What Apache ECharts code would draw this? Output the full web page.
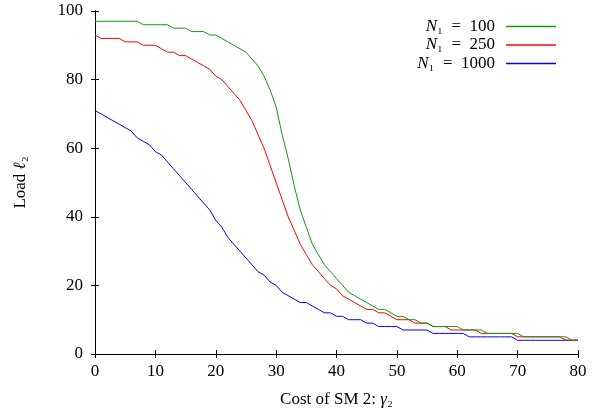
<!DOCTYPE html>
<html>
<head>
<meta charset="utf-8">
<script src="https://cdn.jsdelivr.net/npm/echarts@6/dist/echarts.min.js"></script>
<style>
  html, body { margin: 0; padding: 0; background: #fff; }
  #chart { width: 595px; height: 410px; }
</style>
</head>
<body>
<div id="chart"></div>
<script>
// Cost of SM 2 (gamma_2) sample points
const costs = [0,1,2,3,4,5,6,7,8,9,10,11,12,13,14,15,16,17,18,19,20,
  21,22,23,24,25,26,27,28,29,30,31,32,33,34,35,36,37,38,39,40,
  41,42,43,44,45,46,47,48,49,50,51,52,53,54,55,56,57,58,59,60,
  61,62,63,64,65,66,67,68,69,70,71,72,73,74,75,76,77,78,79,80];

// Load l_2 for N1 = 100
const loadN100 = [97,97,97,97,97,97,97,97,96,96,96,96,96,95,95,95,94,94,94,93,93,
  92,91,90,89,88,86,84,81,77,72,64,57,49,42,37,32,29,26,24,22,
  20,18,17,16,15,14,13,13,12,11,11,10,10,9,9,8,8,8,8,8,
  7,7,7,7,6,6,6,6,6,6,5,5,5,5,5,5,5,5,4,4];

// Load l_2 for N1 = 250
const loadN250 = [93,92,92,92,92,91,91,91,90,90,90,89,88,88,87,87,86,85,84,83,81,
  80,78,76,74,71,68,64,60,55,50,45,40,36,32,29,26,24,22,20,19,
  17,16,15,14,13,13,12,12,11,10,10,10,9,9,9,8,8,8,7,7,
  7,7,7,6,6,6,6,6,6,5,5,5,5,5,5,5,5,4,4,4];

// Load l_2 for N1 = 1000
const loadN1000 = [71,70,69,68,67,66,65,63,62,61,59,58,56,54,52,50,48,46,44,42,39,
  37,34,32,30,28,26,24,23,21,20,18,17,16,15,15,14,13,12,12,11,
  11,10,10,10,9,9,8,8,8,8,7,7,7,7,7,6,6,6,6,6,
  6,5,5,5,5,5,5,5,5,4,4,4,4,4,4,4,4,4,4,4];

const seriesNames = ['N1 = 100', 'N1 = 250', 'N1 = 1000'];
const legendLabels = ['100', '250', '1000'];
const seriesColors = ['#0e9a0e', '#ff0000', '#0000ff'];
const xTicks = { min: 0, max: 80, interval: 10 };
const yTicks = { min: 0, max: 100, interval: 20 };

const FONT = 'Liberation Serif, Times New Roman, DejaVu Serif, serif';

function pairs(ys) { return costs.map((c, i) => [c, ys[i]]); }
const allLoads = [loadN100, loadN250, loadN1000];

const chart = echarts.init(document.getElementById('chart'), null, { renderer: 'canvas' });

const axisCommon = {
  axisLine: { show: true, lineStyle: { color: '#000', width: 1 } },
  axisTick: { show: true, inside: true, length: 4, lineStyle: { color: '#000', width: 1 } },
  splitLine: { show: false },
  axisLabel: { color: '#000', fontFamily: FONT, fontSize: 17 }
};

const legendRich = {
  i: { fontFamily: FONT, fontSize: 17, fontStyle: 'italic', color: '#000' },
  s: { fontFamily: FONT, fontSize: 17, color: '#000' },
  t: { fontFamily: FONT, fontSize: 17, color: '#000' }
};

const legends = seriesNames.map((name, k) => ({
  data: [{ name: name, itemStyle: { color: seriesColors[k], borderWidth: 0 } }],
  right: 34,
  top: 13 + k * 18.5,
  orient: 'vertical',
  align: 'right',
  icon: 'rect',
  itemWidth: 50,
  itemHeight: 1.5,
  selectedMode: false,
  formatter: () => '{i|N}{s|\u2081}{t|\u2002=\u2002' + legendLabels[k] + '}',
  textStyle: { rich: legendRich, padding: [0, 6, 0, 0] }
}));

const nameRich = {
  t: { fontFamily: FONT, fontSize: 17, color: '#000' },
  i: { fontFamily: FONT, fontSize: 17, fontStyle: 'italic', color: '#000' }
};

chart.setOption({
  animation: false,
  backgroundColor: '#fff',
  grid: { left: 95, right: 17, top: 11, bottom: 56, outerBoundsMode: 'none', containLabel: false },
  legend: legends,
  xAxis: [
    Object.assign({}, axisCommon, {
      type: 'value', position: 'bottom',
      min: xTicks.min, max: xTicks.max, interval: xTicks.interval,
      axisLabel: Object.assign({}, axisCommon.axisLabel, { margin: 9 }),
      name: '{t|Cost of SM 2: }{i|\u03b3}{t|\u2082}',
      nameLocation: 'middle', nameGap: 37,
      nameTextStyle: { rich: nameRich }
    }),
    Object.assign({}, axisCommon, {
      type: 'value', position: 'top',
      min: xTicks.min, max: xTicks.max, interval: xTicks.interval,
      axisLabel: { show: false }
    })
  ],
  yAxis: [
    Object.assign({}, axisCommon, {
      type: 'value', position: 'left',
      min: yTicks.min, max: yTicks.max, interval: yTicks.interval,
      axisLabel: Object.assign({}, axisCommon.axisLabel, { margin: 12 }),
      name: '{t|Load }{i|\u2113}{t|\u2082}',
      nameLocation: 'middle', nameGap: 66, nameRotate: 90,
      nameTextStyle: { rich: nameRich }
    }),
    Object.assign({}, axisCommon, {
      type: 'value', position: 'right',
      min: yTicks.min, max: yTicks.max, interval: yTicks.interval,
      axisLabel: { show: false }
    })
  ],
  series: seriesNames.map((name, k) => ({
    name: name,
    type: 'line',
    xAxisIndex: 0,
    yAxisIndex: 0,
    data: pairs(allLoads[k]),
    symbol: 'none',
    showSymbol: false,
    smooth: false,
    lineStyle: { color: seriesColors[k], width: 1 },
    itemStyle: { color: seriesColors[k] },
    z: 3 - k
  }))
});
</script>
</body>
</html>
